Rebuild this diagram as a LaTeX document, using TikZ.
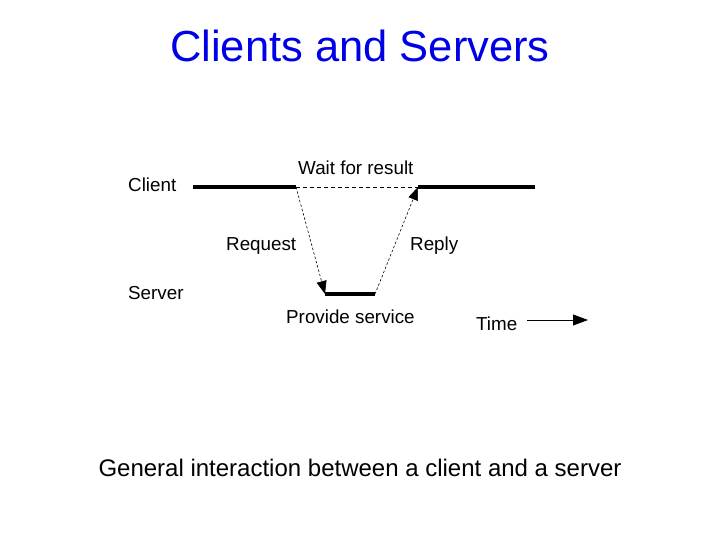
\documentclass[tikz,border=0pt]{standalone}
\usepackage{fontspec}
\setmainfont{Liberation Sans}
\usetikzlibrary{arrows.meta}
\definecolor{titleblue}{RGB}{0,0,230}
\begin{document}
\begin{tikzpicture}[x=1pt,y=-1pt,
  lbl/.style={font=\fontsize{18.8}{21}\selectfont, inner sep=0pt, anchor=base west},
  thickline/.style={line width=3.5pt},
  msg/.style={dashed, dash pattern=on 2.5pt off 2pt, line width=0.6pt, -{Triangle[length=13pt,width=10pt]}, shorten >=0pt},
  waitline/.style={dashed, dash pattern=on 4pt off 3pt, line width=0.7pt}]
\useasboundingbox (0,0) rectangle (720,540);
\node[font=\fontsize{43.5}{48}\selectfont, text=titleblue] (title) at (360,46) {Clients and Servers};
% client timeline
\coordinate (c0) at (193,187);
\coordinate (c1) at (296,187);
\coordinate (c2) at (418,187);
\coordinate (c3) at (535,187);
\coordinate (s0) at (325,294);
\coordinate (s1) at (375,294);
\draw[thickline] (c0) -- (c1);
\draw[thickline] (c2) -- (c3);
\draw[waitline] (c1) -- (c2);
\draw[thickline] (s0) -- (s1);
\draw[msg] (c1) -- (s0);
\draw[msg] (s1) -- (c2);
% labels
\node[lbl] (client) at (128,192) {Client};
\node[lbl] (server) at (128,299) {Server};
\node[lbl] (wait) at (298,175) {Wait for result};
\node[lbl] (req) at (226,250) {Request};
\node[lbl] (rep) at (410,250) {Reply};
\node[lbl] (prov) at (286,323) {Provide service};
\node[lbl] (time) at (476,330) {Time};
\coordinate (t0) at (527,320);
\coordinate (t1) at (588,320);
\draw[line width=0.8pt, -{Triangle[length=15pt,width=11pt]}] (t0) -- (t1);
\node[font=\fontsize{24}{28}\selectfont] (cap) at (360,468) {General interaction between a client and a server};
\end{tikzpicture}
\end{document}
